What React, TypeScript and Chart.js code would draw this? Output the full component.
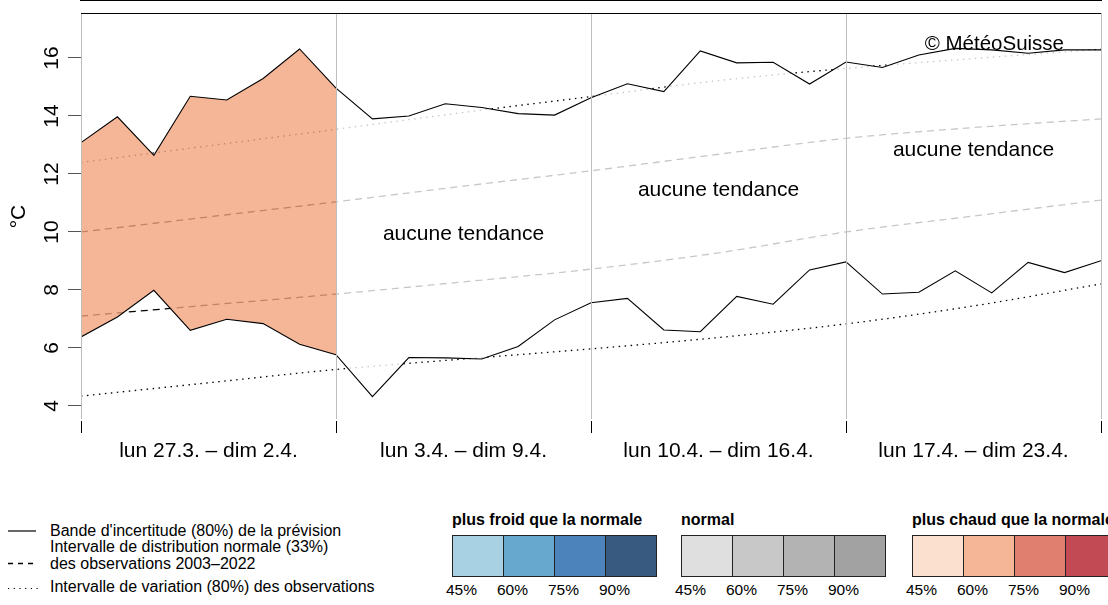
import React, { useEffect, useRef } from 'react';
import { Chart, registerables } from 'chart.js';

Chart.register(...registerables);

const FONT = '"Liberation Sans", Arial, Helvetica, sans-serif';

// ---- data ----
const weekLabels = ['lun 27.3. – dim 2.4.', 'lun 3.4. – dim 9.4.', 'lun 10.4. – dim 16.4.', 'lun 17.4. – dim 23.4.'];
const weekCenters = [3.5, 10.5, 17.5, 24.5];
const yTicks = [4, 6, 8, 10, 12, 14, 16];

// forecast uncertainty band (80%), one value per day, 27.3. .. 24.4.
const bandUpper = [13.08, 13.97, 12.64, 14.68, 14.55, 15.29, 16.31, 14.96, 13.90, 14.00, 14.42, 14.29, 14.08, 14.03, 14.63, 15.11, 14.84, 16.24, 15.83, 15.85, 15.10, 15.86, 15.67, 16.10, 16.33, 16.28, 16.16, 16.28, 16.28];
const bandLower = [6.38, 7.07, 7.99, 6.61, 6.99, 6.84, 6.13, 5.77, 4.32, 5.67, 5.66, 5.62, 6.05, 6.97, 7.56, 7.71, 6.62, 6.56, 7.78, 7.51, 8.69, 8.97, 7.86, 7.92, 8.66, 7.90, 8.95, 8.60, 9.01];

// climatology 2003-2022
const climDays = [0, 3.5, 7, 10.5, 14, 17.5, 21, 24.5, 28];
const clim80Upper = [12.40, 12.97, 13.54, 14.12, 14.67, 15.22, 15.64, 15.98, 16.30];
const clim33Upper = [10.00, 10.52, 11.04, 11.58, 12.11, 12.68, 13.23, 13.60, 13.90];
const clim33Lower = [7.10, 7.48, 7.86, 8.28, 8.72, 9.28, 10.00, 10.55, 11.10];
const clim80Lower = [4.34, 4.80, 5.26, 5.62, 5.97, 6.36, 6.83, 7.45, 8.21];

const tendencyText = 'aucune tendance';
const tendencyWeeks = [1, 2, 3];
const tendencyY = [9.93, 11.45, 12.83];
const copyrightText = '© MétéoSuisse';

// legend
const coldColors = ['#a8d1e4', '#66a8ce', '#4c83ba', '#395a80'];
const normalColors = ['#dfdfdf', '#c8c8c8', '#b3b3b3', '#a2a2a2'];
const warmColors = ['#fce0cf', '#f5b698', '#e07f6f', '#c14a55'];
const probLabels = ['45%', '60%', '75%', '90%'];
const colorGroups = [
  { title: 'plus froid que la normale', colors: coldColors, left: 452 },
  { title: 'normal', colors: normalColors, left: 681 },
  { title: 'plus chaud que la normale', colors: warmColors, left: 912 },
];

const pts = (xs: number[], ys: number[]) => ys.map((v, i) => ({ x: xs[i], y: v }));
const days = bandUpper.map((_, i) => i);

const annotate = {
  id: 'annotate',
  afterDatasetsDraw(chart: any) {
    const { ctx, chartArea } = chart;
    const x = chart.scales.x;
    const y = chart.scales.y;
    ctx.save();
    ctx.fillStyle = '#000';
    ctx.font = `21px ${FONT}`;
    ctx.textAlign = 'center';
    ctx.textBaseline = 'middle';
    tendencyWeeks.forEach((w, i) => {
      ctx.fillText(tendencyText, x.getPixelForValue(weekCenters[w]), y.getPixelForValue(tendencyY[i]));
    });
    ctx.font = `20.5px ${FONT}`;
    ctx.textAlign = 'right';
    ctx.fillText(copyrightText, chartArea.right - 37, chartArea.top + 31);
    ctx.restore();
  },
  afterDraw(chart: any) {
    const { ctx, chartArea } = chart;
    ctx.save();
    ctx.strokeStyle = '#000';
    ctx.lineWidth = 1;
    ctx.beginPath();
    ctx.moveTo(chartArea.left, Math.round(chartArea.top) + 0.5);
    ctx.lineTo(chartArea.right, Math.round(chartArea.top) + 0.5);
    ctx.stroke();
    ctx.restore();
  },
};

function makeConfig(): any {
  const climLine = (data: number[], dash: number[]) => ({
    data: pts(climDays, data),
    borderColor: '#000',
    borderWidth: 1.3,
    borderDash: dash,
    pointRadius: 0,
    fill: false,
    cubicInterpolationMode: 'monotone',
    order: 10,
  });
  const w1 = days.slice(0, 8);
  const w2 = days.slice(7);
  return {
    type: 'line',
    data: {
      datasets: [
        climLine(clim80Upper, [1.5, 4.5]),
        climLine(clim33Upper, [7, 5]),
        climLine(clim33Lower, [7, 5]),
        climLine(clim80Lower, [1.5, 4.5]),
        { data: pts(w1, bandUpper.slice(0, 8)), borderWidth: 0, pointRadius: 0, fill: '+1', backgroundColor: 'rgba(242,164,126,0.8)', order: 5 },
        { data: pts(w1, bandLower.slice(0, 8)), borderWidth: 0, pointRadius: 0, fill: false, order: 5 },
        { data: pts(w2, bandUpper.slice(7)), borderWidth: 0, pointRadius: 0, fill: '+1', backgroundColor: 'rgba(255,255,255,0.78)', order: 5 },
        { data: pts(w2, bandLower.slice(7)), borderWidth: 0, pointRadius: 0, fill: false, order: 5 },
        { data: pts(days, bandUpper), borderColor: '#000', borderWidth: 1.1, pointRadius: 0, fill: false, order: 1 },
        { data: pts(days, bandLower), borderColor: '#000', borderWidth: 1.1, pointRadius: 0, fill: false, order: 1 },
      ],
    },
    options: {
      animation: false,
      responsive: false,
      maintainAspectRatio: false,
      events: [],
      layout: { padding: { top: 13, right: 7, left: 0, bottom: 0 } },
      plugins: { legend: { display: false }, tooltip: { enabled: false } },
      elements: { line: { tension: 0 } },
      scales: {
        x: {
          type: 'linear',
          position: 'bottom',
          min: 0,
          max: 28,
          afterBuildTicks: (s: any) => { s.ticks = weekCenters.map((v) => ({ value: v })); },
          ticks: {
            autoSkip: false, maxRotation: 0, minRotation: 0, padding: 6,
            font: { size: 21, family: FONT }, color: '#000',
            callback: (_v: any, i: number) => weekLabels[i],
          },
          grid: { offset: true, color: '#bebebe', lineWidth: 1, tickColor: '#000', tickLength: 13, drawTicks: true, z: 1 },
          border: { display: true, color: '#000', width: 2 },
          afterFit: (s: any) => { s.height = 60; s.paddingLeft = 0; s.paddingRight = 0; },
        },
        y: {
          type: 'linear',
          min: 3.517,
          max: 17.55,
          afterBuildTicks: (s: any) => { s.ticks = yTicks.map((v) => ({ value: v })); },
          ticks: { font: { size: 21, family: FONT }, color: '#000', minRotation: 90, maxRotation: 90, crossAlign: 'center', padding: 4 },
          grid: { drawOnChartArea: false, drawTicks: true, tickLength: 13, tickColor: '#555' },
          border: { display: false },
          title: { display: true, text: '°C', font: { size: 21, family: FONT }, color: '#000', padding: { top: 7, bottom: 0 } },
          afterFit: (s: any) => { s.width = 81; s.paddingTop = 0; s.paddingBottom = 0; },
        },
      },
    },
    plugins: [annotate],
  };
}

export default function App() {
  const ref = useRef<HTMLCanvasElement>(null);
  useEffect(() => {
    Chart.defaults.font.family = FONT;
    const chart = new Chart(ref.current as HTMLCanvasElement, makeConfig());
    return () => chart.destroy();
  }, []);

  const legendText: React.CSSProperties = { position: 'absolute', left: 50, fontSize: 16, lineHeight: '17px', color: '#000', whiteSpace: 'nowrap' };

  return (
    <div style={{ position: 'relative', width: 1108, height: 605, overflow: 'hidden', fontFamily: FONT, background: '#fff' }}>
      <style>{'body{margin:0}'}</style>
      <canvas ref={ref} width={1108} height={480} style={{ position: 'absolute', left: 0, top: 0, width: 1108, height: 480 }} />
      <svg width={45} height={605} style={{ position: 'absolute', left: 0, top: 0 }}>
        <line x1={8} x2={36} y1={531} y2={531} stroke="#000" strokeWidth={1.2} />
        <line x1={8} x2={38} y1={563.5} y2={563.5} stroke="#000" strokeWidth={1.4} strokeDasharray="5 5" />
        <line x1={8} x2={38} y1={588.5} y2={588.5} stroke="#000" strokeWidth={1.2} strokeDasharray="1.2 4.5" />
      </svg>
      <div style={{ ...legendText, top: 522 }}>Bande d'incertitude (80%) de la prévision</div>
      <div style={{ ...legendText, top: 538 }}>Intervalle de distribution normale (33%)<br />des observations 2003–2022</div>
      <div style={{ ...legendText, top: 578 }}>Intervalle de variation (80%) des observations</div>
      {colorGroups.map((g) => (
        <React.Fragment key={g.title}>
          <div style={{ position: 'absolute', left: g.left, top: 511, fontSize: 16, fontWeight: 'bold', lineHeight: '18px', whiteSpace: 'nowrap' }}>{g.title}</div>
          {g.colors.map((c, k) => (
            <div key={c} style={{ position: 'absolute', left: g.left + k * 51, top: 535, width: 52, height: 42, boxSizing: 'border-box', border: '1px solid #222', background: c }} />
          ))}
          {probLabels.map((p, k) => (
            <div key={p} style={{ position: 'absolute', left: g.left + k * 51 - 6, top: 581, fontSize: 15.5, lineHeight: '18px', whiteSpace: 'nowrap' }}>{p}</div>
          ))}
        </React.Fragment>
      ))}
    </div>
  );
}
